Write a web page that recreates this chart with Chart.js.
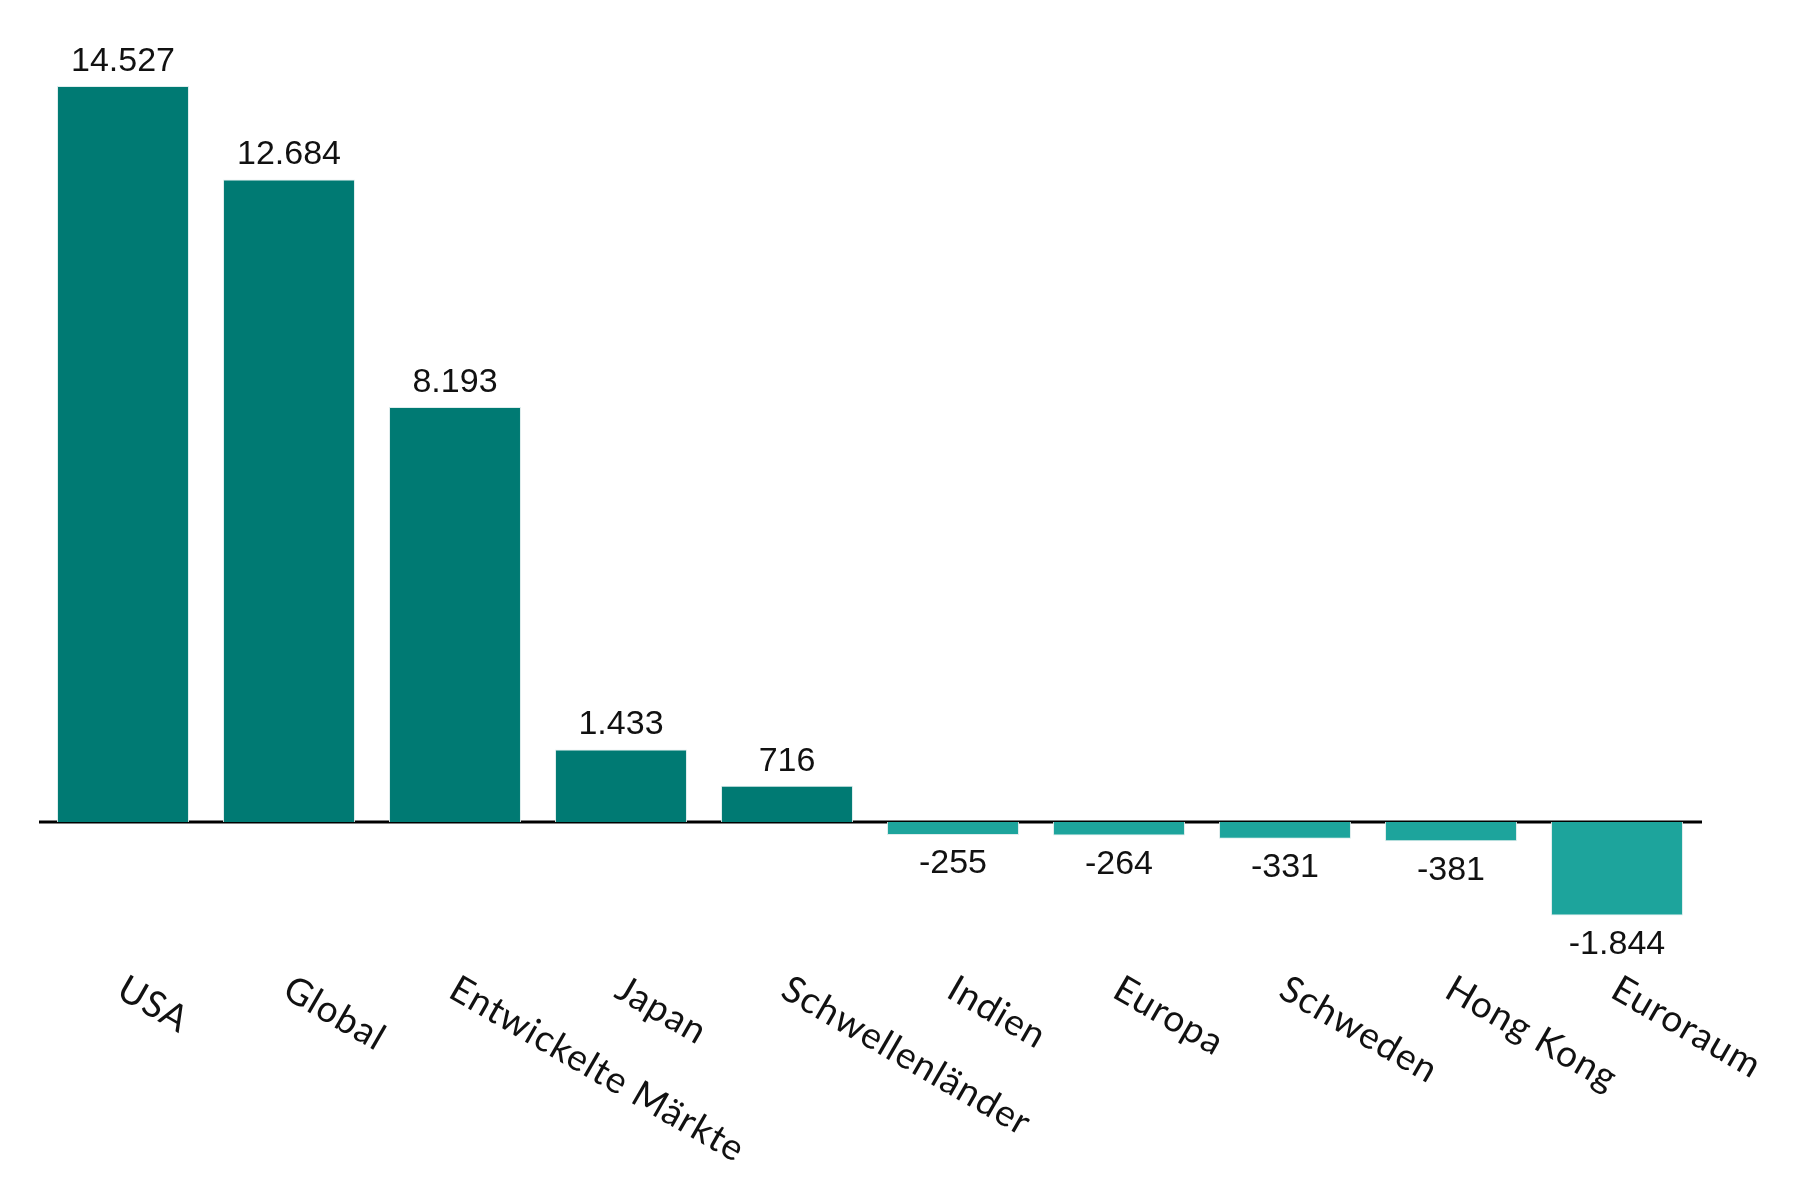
<!DOCTYPE html>
<html>
<head>
<meta charset="utf-8">
<script src="https://cdn.jsdelivr.net/npm/chart.js@4"></script>
<style>
  html, body { margin: 0; padding: 0; background: #fff; }
  #wrap { width: 1800px; height: 1200px; }
</style>
</head>
<body>
<div id="wrap"><canvas id="myChart" width="1800" height="1200"></canvas></div>
<script>
    // categories and values (German formatting in labels)
    const regions = ["USA", "Global", "Entwickelte Märkte", "Japan", "Schwellenländer",
                     "Indien", "Europa", "Schweden", "Hong Kong", "Euroraum"];
    const flows = [14527, 12684, 8193, 1433, 716, -255, -264, -331, -381, -1844];

    const posColor = 'rgb(0,122,115)';
    const negColor = 'rgb(29,164,156)';

    // format like 14.527
    function fmt(v) {
        let s = Math.abs(v).toString().replace(/\B(?=(\d{3})+(?!\d))/g, '.');
        return (v < 0 ? '-' : '') + s;
    }

    // zero line behind the bars
    const zeroLine = {
        id: 'zeroLine',
        beforeDatasetsDraw(chart) {
            const ctx = chart.ctx;
            const y = chart.scales.y.getPixelForValue(0);
            ctx.save();
            ctx.strokeStyle = '#000';
            ctx.lineWidth = 3;
            ctx.beginPath();
            ctx.moveTo(chart.chartArea.left - 1, y);
            ctx.lineTo(chart.chartArea.right + 2, y);
            ctx.stroke();
            ctx.restore();
        }
    };

    // value labels and slanted category labels
    const labelsPlugin = {
        id: 'labelsPlugin',
        afterDatasetsDraw(chart) {
            const ctx = chart.ctx;
            const meta = chart.getDatasetMeta(0);
            ctx.save();
            ctx.fillStyle = '#111';
            ctx.font = '34px "Liberation Sans"';
            ctx.textAlign = 'center';
            meta.data.forEach((bar, i) => {
                const v = flows[i];
                if (v >= 0) {
                    ctx.textBaseline = 'alphabetic';
                    ctx.fillText(fmt(v), bar.x, bar.y - 15);
                } else {
                    ctx.textBaseline = 'top';
                    ctx.fillText(fmt(v), bar.x, bar.y + 12);
                }
            });
            // category labels, rotated downwards
            ctx.font = '37px Lato';
            ctx.letterSpacing = '1px';
            ctx.textAlign = 'left';
            ctx.textBaseline = 'top';
            regions.forEach((name, i) => {
                const x = chart.scales.x.getPixelForValue(i);
                ctx.save();
                ctx.translate(x + 7, 970);
                ctx.rotate(30 * Math.PI / 180);
                ctx.fillText(name, 0, 0);
                ctx.restore();
            });
            ctx.restore();
        }
    };

    const data = {
        labels: regions,
        datasets: [{
            data: flows,
            backgroundColor: flows.map(v => v >= 0 ? posColor : negColor),
            borderColor: 'rgba(220,235,235,0.9)',
            borderWidth: 1,
            barPercentage: 0.795,
            categoryPercentage: 1.0
        }]
    };

    const config = {
        type: 'bar',
        data: data,
        options: {
            responsive: false,
            animation: false,
            layout: { padding: { top: 30, bottom: 260, left: 40, right: 100 } },
            plugins: { legend: { display: false }, tooltip: { enabled: false } },
            scales: {
                x: { display: false },
                y: { display: false, min: -2329, max: 15634 }
            }
        },
        plugins: [zeroLine, labelsPlugin]
    };

    const myChart = new Chart(document.getElementById('myChart'), config);
</script>
</body>
</html>
